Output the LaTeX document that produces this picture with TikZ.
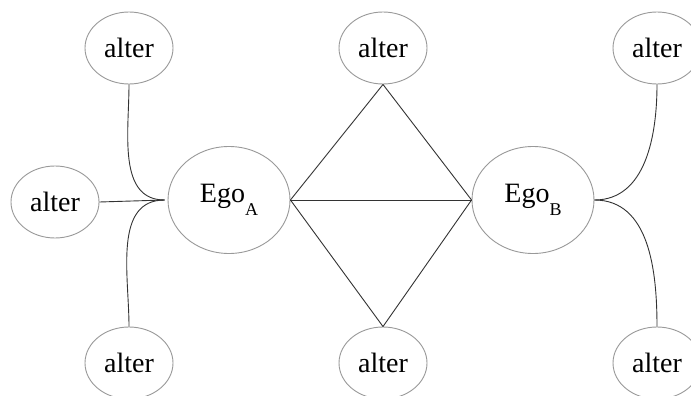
\documentclass[tikz,border=0pt]{standalone}
\usepackage{fontspec}
\setmainfont{Liberation Serif}
\usetikzlibrary{shapes.geometric}
\begin{document}
\begin{tikzpicture}[x=1pt,y=-1pt,
  alterbox/.style={ellipse,draw=black!40,line width=0.9pt,minimum width=88pt,minimum height=72pt,inner sep=0pt,font=\fontsize{28}{30}\selectfont},
  egobox/.style={ellipse,draw=black!40,line width=0.9pt,minimum width=122pt,minimum height=107pt,inner sep=0pt,font=\fontsize{28}{30}\selectfont},
  link/.style={draw=black!80,line width=0.9pt}]
\clip (0,0) rectangle (691,396);
\fill[white] (0,0) rectangle (691,396);
\newcommand{\egolabel}[1]{Ego\raisebox{-13pt}{\fontsize{18}{18}\selectfont #1}}
\node[egobox] (egoA) at (229,200) {\egolabel{A}};
\node[egobox] (egoB) at (533,200) {\egolabel{B}};
\node[alterbox] (a1) at (129,48) {alter};
\node[alterbox] (a2) at (55,202) {alter};
\node[alterbox] (a3) at (129,363) {alter};
\node[alterbox] (m1) at (383,48) {alter};
\node[alterbox] (m2) at (383,363) {alter};
\node[alterbox] (b1) at (657,48) {alter};
\node[alterbox] (b2) at (657,363) {alter};
\coordinate (ja) at ([xshift=-3pt]egoA.west);
\draw[link] (a1.south) to[out=-90,in=180] (ja);
\draw[link] (a2.east) -- (ja);
\draw[link] (a3.north) to[out=90,in=180] (ja);
\draw[link] (egoA.east) -- (m1.south) -- (egoB.west) -- (m2.north) -- (egoA.east);
\draw[link] (egoA.east) -- (egoB.west);
\draw[link] (egoB.east) to[out=0,in=-90] (b1.south);
\draw[link] (egoB.east) to[out=0,in=90] (b2.north);
\end{tikzpicture}
\end{document}
